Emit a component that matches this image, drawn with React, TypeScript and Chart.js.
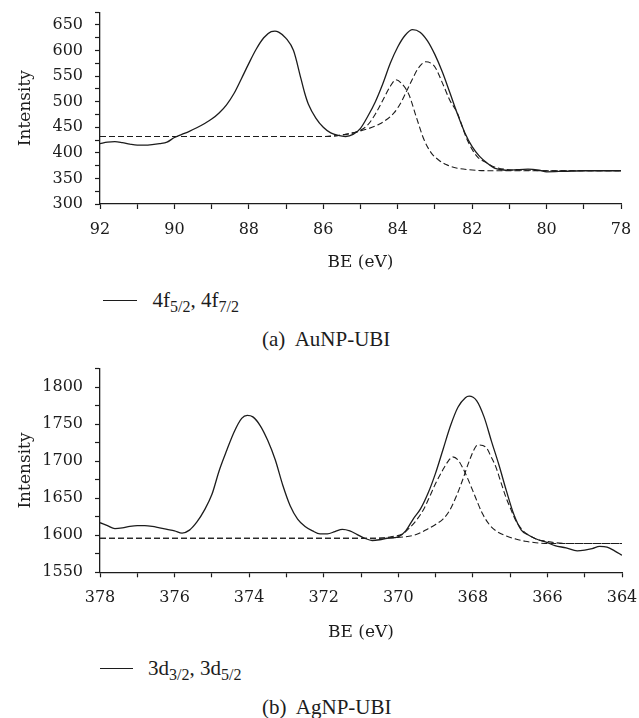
import React, { useEffect, useRef } from "react";
import { Chart, registerables } from "chart.js";

Chart.register(...registerables);

// ---------- Panel (a): AuNP-UBI, Au 4f ----------
const auBE = [92.0, 91.8, 91.6, 91.4, 91.2, 91.0, 90.8, 90.6, 90.4, 90.2, 90.0, 89.8, 89.6, 89.4, 89.2, 89.0, 88.8, 88.6, 88.4, 88.2, 88.0, 87.8, 87.6, 87.4, 87.3, 87.2, 87.0, 86.8, 86.6, 86.5, 86.4, 86.2, 86.0, 85.8, 85.6, 85.4, 85.2, 85.0, 84.8, 84.6, 84.4, 84.2, 84.0, 83.8, 83.6, 83.4, 83.2, 83.0, 82.8, 82.6, 82.4, 82.2, 82.0, 81.8, 81.6, 81.4, 81.2, 81.0, 80.8, 80.5, 80.2, 80.0, 79.5, 79.0, 78.5, 78.0];
const auMeasured = [418, 421, 422, 420, 417, 415, 415, 416, 418, 421, 430, 436, 442, 449, 457, 466, 478, 494, 516, 545, 575, 603, 625, 637, 638, 636, 624, 600, 545, 517, 495, 468, 450, 439, 434, 432, 436, 448, 472, 500, 535, 575, 607, 630, 641, 636, 619, 592, 558, 518, 477, 440, 412, 393, 380, 370, 367, 366, 367, 368, 366, 363, 364, 365, 365, 365];

const auFitABE = [92.0, 86.0, 85.5, 85.2, 85.0, 84.8, 84.6, 84.4, 84.2, 84.05, 83.9, 83.7, 83.5, 83.3, 83.1, 82.9, 82.7, 82.4, 82.1, 81.5, 78.0];
const auFitA = [432, 432, 435, 439, 444, 455, 476, 503, 530, 543, 536, 514, 470, 427, 400, 386, 377, 370, 367, 365, 365];

const auFitBBE = [92.0, 86.0, 85.5, 85.0, 84.5, 84.1, 83.9, 83.74, 83.6, 83.47, 83.35, 83.25, 83.1, 83.0, 82.76, 82.6, 82.4, 82.13, 81.87, 81.6, 81.42, 81.0, 80.5, 80.0, 78.0];
const auFitB = [432, 432, 435, 443, 456, 478, 500, 524, 545, 563, 574, 578, 575, 568, 530, 503, 478, 425, 393, 380, 373, 367, 366, 365, 365];

// ---------- Panel (b): AgNP-UBI, Ag 3d ----------
const agBE = [378.0, 377.8, 377.6, 377.4, 377.2, 377.0, 376.8, 376.6, 376.4, 376.2, 376.0, 375.8, 375.6, 375.4, 375.2, 375.0, 374.8, 374.6, 374.4, 374.2, 374.05, 373.9, 373.7, 373.5, 373.3, 373.1, 372.9, 372.7, 372.5, 372.3, 372.1, 371.9, 371.7, 371.5, 371.3, 371.1, 370.9, 370.7, 370.5, 370.3, 370.0, 369.8, 369.6, 369.4, 369.2, 369.0, 368.8, 368.6, 368.4, 368.2, 368.1, 367.9, 367.7, 367.5, 367.3, 367.1, 366.9, 366.7, 366.5, 366.3, 366.0, 365.8, 365.5, 365.2, 365.0, 364.8, 364.6, 364.4, 364.2, 364.0];
const agMeasured = [1617, 1613, 1609, 1610, 1612, 1613, 1613, 1612, 1610, 1608, 1606, 1603, 1607, 1618, 1634, 1655, 1688, 1715, 1740, 1758, 1762, 1760, 1748, 1728, 1702, 1668, 1640, 1622, 1612, 1606, 1602, 1602, 1605, 1608, 1606, 1601, 1596, 1593, 1594, 1596, 1598, 1606, 1622, 1636, 1657, 1684, 1716, 1748, 1773, 1786, 1788, 1782, 1760, 1727, 1695, 1660, 1628, 1607, 1600, 1595, 1590, 1586, 1583, 1579, 1580, 1582, 1585, 1584, 1579, 1573];

const agFitABE = [378.0, 371.0, 370.5, 370.2, 369.88, 369.7, 369.52, 369.3, 369.17, 369.0, 368.81, 368.65, 368.54, 368.4, 368.28, 368.15, 368.0, 367.74, 367.55, 367.38, 367.1, 366.85, 366.6, 366.31, 366.0, 364.0];
const agFitA = [1596, 1596, 1596, 1598, 1602, 1610, 1620, 1637, 1651, 1670, 1688, 1701, 1706, 1702, 1692, 1678, 1660, 1629, 1614, 1606, 1599, 1595, 1592, 1590, 1589, 1589];

const agFitBBE = [378.0, 371.0, 370.06, 369.52, 369.2, 368.99, 368.8, 368.63, 368.45, 368.28, 368.1, 367.92, 367.85, 367.65, 367.5, 367.38, 367.25, 367.11, 366.98, 366.85, 366.65, 366.49, 366.25, 366.04, 365.8, 365.5, 364.0];
const agFitB = [1596, 1596, 1597, 1601, 1609, 1615, 1622, 1633, 1652, 1674, 1700, 1720, 1722, 1719, 1705, 1692, 1672, 1651, 1635, 1620, 1606, 1600, 1594, 1592, 1590, 1589, 1589];

// axis texts
const xTitle = "BE (eV)";
const yTitle = "Intensity";

const HTML_FONT = '"Liberation Serif", serif';
const CANVAS_FONT = "DejaVu Serif";
const TICK_SIZE = 16;
const TITLE_SIZE = 17;
const INK = "#1c1c1c";

type PanelSpec = {
  measBE: number[]; meas: number[];
  aBE: number[]; a: number[];
  bBE: number[]; b: number[];
  xMin: number; xMax: number;
  yMin: number; yMax: number; yStep: number; yLabelStep: number;
  padTop: number; padRight: number; xHeight: number; canvasH: number;
};

function pts(xs: number[], ys: number[]) {
  return xs.map((x, i) => ({ x, y: ys[i] }));
}

function buildConfig(p: PanelSpec): any {
  const line = (data: any, dash: number[] | undefined, w: number) => ({
    data,
    borderColor: INK,
    borderWidth: w,
    borderDash: dash,
    pointRadius: 0,
    fill: false,
    tension: 0,
    cubicInterpolationMode: "monotone",
  });
  return {
    type: "line",
    data: {
      datasets: [
        line(pts(p.measBE, p.meas), undefined, 1.3),
        line(pts(p.aBE, p.a), [6, 3], 1.1),
        line(pts(p.bBE, p.b), [6, 3], 1.1),
      ],
    },
    options: {
      responsive: false,
      animation: false,
      events: [],
      layout: { padding: { top: p.padTop, right: p.padRight, left: 0, bottom: 0 } },
      plugins: { legend: { display: false }, tooltip: { enabled: false } },
      scales: {
        x: {
          type: "linear",
          reverse: true,
          min: p.xMin,
          max: p.xMax,
          afterFit: (s: any) => {
            s.height = p.xHeight;
            s.paddingLeft = 0;
            s.paddingRight = 0;
          },
          border: { display: true, color: INK, width: 1.3 },
          grid: { drawOnChartArea: false, drawTicks: true, tickLength: 5, tickColor: INK, tickWidth: 1.2 },
          ticks: {
            stepSize: 1,
            autoSkip: false,
            maxRotation: 0,
            color: INK,
            padding: 11,
            font: { family: CANVAS_FONT, size: TICK_SIZE },
            callback: (v: number) => (Math.round(v) % 2 === 0 ? String(v) : ""),
          },
          title: {
            display: true,
            text: xTitle,
            color: INK,
            font: { family: CANVAS_FONT, size: TITLE_SIZE },
            padding: { top: 0, bottom: 7 },
          },
        },
        y: {
          type: "linear",
          min: p.yMin,
          max: p.yMax,
          afterFit: (s: any) => {
            s.width = 100;
            s.paddingTop = 0;
            s.paddingBottom = 0;
          },
          border: { display: true, color: INK, width: 1.3 },
          grid: { drawOnChartArea: false, drawTicks: true, tickLength: 5, tickColor: INK, tickWidth: 1.2 },
          ticks: {
            stepSize: p.yStep,
            autoSkip: false,
            color: INK,
            padding: 12,
            font: { family: CANVAS_FONT, size: TICK_SIZE },
            callback: (v: number) => (v % p.yLabelStep === 0 ? String(v) : ""),
          },
          title: {
            display: true,
            text: yTitle,
            color: INK,
            font: { family: CANVAS_FONT, size: TITLE_SIZE },
            padding: { top: 15, bottom: 0 },
          },
        },
      },
    },
  };
}

function ChartPanel({ spec, top }: { spec: PanelSpec; top: number }) {
  const ref = useRef<HTMLCanvasElement | null>(null);
  useEffect(() => {
    if (!ref.current) return;
    const chart = new Chart(ref.current, buildConfig(spec));
    return () => {
      chart.destroy();
    };
  }, []);
  return (
    <canvas
      ref={ref}
      width={639}
      height={spec.canvasH}
      style={{ position: "absolute", left: 0, top, width: 639, height: spec.canvasH, display: "block" }}
    />
  );
}

const panelA: PanelSpec = {
  measBE: auBE, meas: auMeasured,
  aBE: auFitABE, a: auFitA,
  bBE: auFitBBE, b: auFitB,
  xMin: 78, xMax: 92,
  yMin: 300, yMax: 675, yStep: 25, yLabelStep: 50,
  padTop: 12.2, padRight: 18, xHeight: 76, canvasH: 280,
};

const panelB: PanelSpec = {
  measBE: agBE, meas: agMeasured,
  aBE: agFitABE, a: agFitA,
  bBE: agFitBBE, b: agFitB,
  xMin: 364, xMax: 378,
  yMin: 1550, yMax: 1825, yStep: 25, yLabelStep: 50,
  padTop: 13.8, padRight: 17, xHeight: 77.7, canvasH: 295,
};

const textStyle: React.CSSProperties = {
  position: "absolute",
  fontFamily: HTML_FONT,
  fontSize: 21,
  lineHeight: "21px",
  color: INK,
  whiteSpace: "pre",
};

const Sub = ({ children }: { children: React.ReactNode }) => (
  <span style={{ fontSize: 16, position: "relative", top: 5 }}>{children}</span>
);

export default function App() {
  return (
    <div style={{ position: "absolute", left: 0, top: 0, width: 639, height: 718, background: "#fff", overflow: "hidden" }}>
      <ChartPanel spec={panelA} top={0} />
      <div style={{ position: "absolute", left: 102.5, top: 299.5, width: 34, borderTop: `1.3px solid ${INK}` }} />
      <div style={{ ...textStyle, left: 152.5, top: 289.5 }}>
        4f<Sub>5/2</Sub>, 4f<Sub>7/2</Sub>
      </div>
      <div style={{ ...textStyle, left: 262, top: 329 }}>(a)  AuNP-UBI</div>

      <ChartPanel spec={panelB} top={355} />
      <div style={{ position: "absolute", left: 100, top: 668, width: 33, borderTop: `1.3px solid ${INK}` }} />
      <div style={{ ...textStyle, left: 148, top: 657.5 }}>
        3d<Sub>3/2</Sub>, 3d<Sub>5/2</Sub>
      </div>
      <div style={{ ...textStyle, left: 262, top: 697 }}>(b)  AgNP-UBI</div>
    </div>
  );
}
